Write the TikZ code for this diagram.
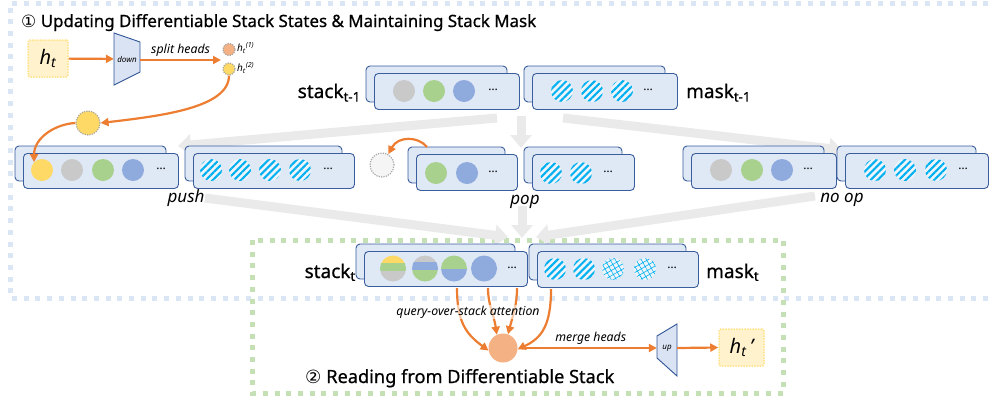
\documentclass[tikz,border=0pt]{standalone}
\usepackage{fontspec}
\setmainfont{Noto Sans}
\newfontfamily\medfont{Noto Sans}[FakeBold=0.7]
\newfontfamily\symfont{DejaVu Sans}
\usetikzlibrary{arrows.meta,patterns.meta}
\definecolor{orange1}{HTML}{ED7D31}
\definecolor{lorange}{HTML}{F4B183}
\definecolor{yel}{HTML}{FFD966}
\definecolor{lyel}{HTML}{FFF2CC}
\definecolor{yelb}{HTML}{FFE38A}
\definecolor{gry}{HTML}{C9C9C9}
\definecolor{grn}{HTML}{A9D18E}
\definecolor{blu}{HTML}{8FAADC}
\definecolor{boxf}{HTML}{DFE8F5}
\definecolor{boxb}{HTML}{3A5D9E}
\definecolor{cyan1}{HTML}{00B0F0}
\definecolor{hatchbg}{HTML}{EEF4FB}
\definecolor{bframe}{HTML}{DAE6F4}
\definecolor{gframe}{HTML}{C5E0B4}
\definecolor{garrow}{HTML}{EAEAEA}
\definecolor{trapf}{HTML}{DAE3F3}
\definecolor{trapb}{HTML}{2F5597}
\newcommand\pairbox[5]{%
  \draw[box] (#2-8,#3-7) rectangle (#4-12,#5-7);
  \node[box, anchor=north west, inner sep=0pt, minimum width={#4pt-#2pt}, minimum height={#5pt-#3pt}] (#1) at (#2,#3) {};
}
\begin{document}
\begin{tikzpicture}[x=1pt,y=-1pt,
  box/.style={draw=boxb, fill=boxf, line width=0.9pt, rounded corners=4pt},
  ball/.style={circle, inner sep=0pt, minimum size=22pt},
  bigball/.style={circle, inner sep=0pt, minimum size=26pt},
  hatchc/.style={ball, fill=hatchbg, postaction={pattern={Lines[angle=45,distance=5pt,line width=2.1pt]}, pattern color=cyan1}},
  xhatchc/.style={ball, fill=hatchbg, postaction={pattern={Hatch[angle=30,distance=4.5pt,line width=0.6pt]}, pattern color=cyan1}},
  ellip/.style={font=\fontsize{12}{12}\selectfont, inner sep=0pt},
  oar/.style={draw=orange1, line width=2.2pt, -{Triangle[length=8pt,width=8pt]}},
  gar/.style={draw=garrow, line width=9pt, -{Triangle[length=13pt,width=21pt]}},
  dotc/.style={draw=gray!70, dash pattern=on 1.2pt off 1.2pt, line width=1.2pt},
  hbox/.style={fill=lyel, draw=yelb, dash pattern=on 1.5pt off 1.2pt, line width=1.5pt, rounded corners=2pt, inner sep=0pt},
  trap/.style={fill=trapf, draw=trapb, line width=0.9pt},
  lab/.style={font=\itshape\fontsize{12.3}{12.3}\selectfont, inner sep=1pt},
  big/.style={font=\medfont\fontsize{19}{19}\selectfont, inner sep=0pt},
]
\useasboundingbox (0,0) rectangle (995,400);
% frames
\draw[bframe, line width=5pt, dash pattern=on 5pt off 6.7pt] (1000,3) -- (10,3) -- (10,298) -- (1000,298);
\draw[gframe, line width=5pt, dash pattern=on 5pt off 6.7pt] (252,240) rectangle (783,393);

% gray flow arrows
\coordinate (g0) at (497,118);
\coordinate (g1) at (521,116);
\coordinate (g2) at (563,118);
\coordinate (gl) at (178,146);
\coordinate (gm) at (521,148);
\coordinate (gr) at (842,150);
\draw[gar] (g0) -- (gl);
\draw[gar] (g1) -- (gm);
\draw[gar] (g2) -- (gr);
\coordinate (b0) at (205,198);
\coordinate (b1) at (522,206);
\coordinate (b2) at (815,196);
\coordinate (bl) at (508,237);
\coordinate (bm) at (522,238);
\coordinate (br) at (536,237);
\draw[gar] (b0) -- (bl);
\draw[gar] (b1) -- (bm);
\draw[gar] (b2) -- (br);

% title
\node[anchor=base west, font=\medfont\fontsize{16.9}{16.9}\selectfont, inner sep=0pt] (title) at (21,27) {{\symfont ①} Updating Differentiable Stack States \& Maintaining Stack Mask};

% input
\node[hbox, minimum width=40pt, minimum height=37pt] (ht) at (48,58.5) {\fontsize{20}{20}\selectfont\bfseries\itshape h\textsubscript{t}};
\draw[trap] (114,33) -- (140,42) -- (140,72) -- (114,85) -- cycle;
\node[inner sep=0pt, minimum width=26pt, minimum height=40pt, font=\itshape\fontsize{8}{8}\selectfont] (down) at (127,59) {down};
\draw[oar] (ht) -- (down);
\node[ball, minimum size=12pt, fill=lorange, dotc] (h1) at (229,49.5) {};
\node[ball, minimum size=12pt, fill=yel, dotc] (h2) at (229,69) {};
\node[anchor=west, inner sep=0pt, font=\itshape\fontsize{10}{10}\selectfont] (h1l) at (237,48) {h\textsubscript{t}\textsuperscript{(1)}};
\node[anchor=west, inner sep=0pt, font=\itshape\fontsize{10}{10}\selectfont] (h2l) at (237,68) {h\textsubscript{t}\textsuperscript{(2)}};
\coordinate (split) at (221,60);
\draw[oar] (down.east |- split) -- node[lab, above=1pt] (lsplit) {split heads} (split);
\node[ball, minimum size=24pt, fill=yel, dotc] (yq) at (88,123) {};
\draw[oar] (h2.south) .. controls (229,108) and (160,116) .. (yq.east);

% stack t-1
\node[big, anchor=base east] (lst1) at (361,98) {stack\textsubscript{t-1}};
\pairbox{s1}{374}{73}{519}{109}
\node[ball, fill=gry] (s1a) at (404,91) {};
\node[ball, fill=grn] (s1b) at (434,91) {};
\node[ball, fill=blu] (s1c) at (464,91) {};
\node[ellip] (s1d) at (493,90) {…};
\pairbox{m1}{532}{73}{677}{109}
\node[hatchc] (m1a) at (562,91) {};
\node[hatchc] (m1b) at (592,91) {};
\node[hatchc] (m1c) at (622,91) {};
\node[ellip] (m1d) at (648,90) {…};
\node[big, anchor=base west] (lmt1) at (686,98) {mask\textsubscript{t-1}};

% push
\pairbox{ps}{23}{153}{178}{188}
\node[ball, fill=yel] (psa) at (42,170) {};
\node[ball, fill=gry] (psb) at (72,170) {};
\node[ball, fill=grn] (psc) at (103,170) {};
\node[ball, fill=blu] (psd) at (133,170) {};
\node[ellip] (pse) at (161,169) {…};
\pairbox{pm}{193}{153}{354}{188}
\node[hatchc] (pma) at (211,170) {};
\node[hatchc] (pmb) at (240,170) {};
\node[hatchc] (pmc) at (270,170) {};
\node[hatchc] (pmd) at (300,170) {};
\node[ellip] (pme) at (328,169) {…};
\draw[oar] (yq.west) .. controls (55,124) and (34,138) .. (psa.135);
\node[anchor=base, inner sep=0pt, font=\itshape\fontsize{17}{17}\selectfont] (lpush) at (186,202) {push};

% pop
\node[ball, minimum size=24pt, fill=gray!8, dotc] (popc) at (382,165) {};
\pairbox{os}{416}{154}{517}{190}
\node[ball, fill=grn] (osa) at (436,173) {};
\node[ball, fill=blu] (osb) at (467,173) {};
\node[ellip] (osc) at (493,172) {…};
\pairbox{om}{532}{154}{634}{190}
\node[hatchc] (oma) at (551,173) {};
\node[hatchc] (omb) at (581,173) {};
\node[ellip] (omc) at (608,172) {…};
\coordinate (popstart) at (427,147);
\draw[oar] (popstart) .. controls (418,136) and (398,136) .. (popc.60);
\node[anchor=base, inner sep=0pt, font=\itshape\fontsize{17}{17}\selectfont] (lpop) at (525,204) {pop};

% no op
\pairbox{ns}{691}{153}{836}{188}
\node[ball, fill=gry] (nsa) at (721,170) {};
\node[ball, fill=grn] (nsb) at (752,170) {};
\node[ball, fill=blu] (nsc) at (782,170) {};
\node[ellip] (nsd) at (808,169) {…};
\pairbox{nm}{845}{153}{988}{188}
\node[hatchc] (nma) at (875,170) {};
\node[hatchc] (nmb) at (905,170) {};
\node[hatchc] (nmc) at (936,170) {};
\node[ellip] (nmd) at (963,169) {…};
\node[anchor=base, inner sep=0pt, font=\itshape\fontsize{17}{17}\selectfont] (lnoop) at (842,202) {no op};

% stack t
\node[big, anchor=base east] (lst) at (356,278) {stack\textsubscript{t}};
\pairbox{st}{364}{251}{527}{286}
\begin{scope}
  \clip (393,268.5) circle (13);
  \fill[yel] (378,254) rectangle (408,263.3);
  \fill[grn] (378,263.3) rectangle (408,270.7);
  \fill[gry] (378,270.7) rectangle (408,284);
\end{scope}
\begin{scope}
  \clip (425,268.5) circle (13);
  \fill[gry] (410,254) rectangle (440,262);
  \fill[blu] (410,262) rectangle (440,270);
  \fill[grn] (410,270) rectangle (440,284);
\end{scope}
\begin{scope}
  \clip (454,268.5) circle (13);
  \fill[grn] (439,254) rectangle (469,269);
  \fill[blu] (439,269) rectangle (469,284);
\end{scope}
\node[bigball] (sta) at (393,268.5) {};
\node[bigball] (stb) at (425,268.5) {};
\node[bigball] (stc) at (454,268.5) {};
\node[bigball, fill=blu] (std) at (484,268.5) {};
\node[ellip] (ste) at (512,268) {…};
\pairbox{mt}{537}{251}{698}{287}
\node[hatchc] (mta) at (555,269) {};
\node[hatchc] (mtb) at (584,269) {};
\node[xhatchc] (mtc) at (613,269) {};
\node[xhatchc] (mtd) at (645,269) {};
\node[ellip] (mte) at (672,268) {…};
\node[big, anchor=base west] (lmt) at (706,278) {mask\textsubscript{t}};

% reading
\node[circle, inner sep=0pt, minimum size=29pt, fill=lorange] (rd) at (503,348) {};
\coordinate (q1) at (457,288);
\coordinate (q2) at (488,288);
\coordinate (q3) at (517,288);
\coordinate (q4) at (551,289);
\draw[oar] (q1) .. controls (457,322) and (466,334) .. (rd.190);
\draw[oar] (q2) .. controls (488,305) and (494,315) .. (rd.115);
\draw[oar] (q3) .. controls (517,305) and (513,315) .. (rd.70);
\draw[oar] (q4) .. controls (551,325) and (542,338) .. (rd.355);
\node[lab, fill=white, fill opacity=0.6, text opacity=1] (lq) at (468,312) {query-over-stack attention};
\draw[trap] (657,336) -- (677,324) -- (677,376) -- (657,358) -- cycle;
\node[inner sep=0pt, minimum width=20pt, minimum height=30pt, font=\itshape\fontsize{8}{8}\selectfont] (up) at (667,348) {up};
\draw[oar] (rd.east) ++(7,0) coordinate (m0) (m0) -- node[lab, above=1pt] (lmerge) {merge heads} (up.west);
\node[hbox, minimum width=45pt, minimum height=37pt] (htp) at (741.5,347.5) {\fontsize{20}{20}\selectfont\bfseries\itshape h\textsubscript{t}\,’};
\draw[oar] (up.east) -- (htp.west);
\node[anchor=base west, font=\medfont\fontsize{18.2}{18.2}\selectfont, inner sep=0pt] (title2) at (305,383) {{\symfont ②} Reading from Differentiable Stack};
\end{tikzpicture}
\end{document}
